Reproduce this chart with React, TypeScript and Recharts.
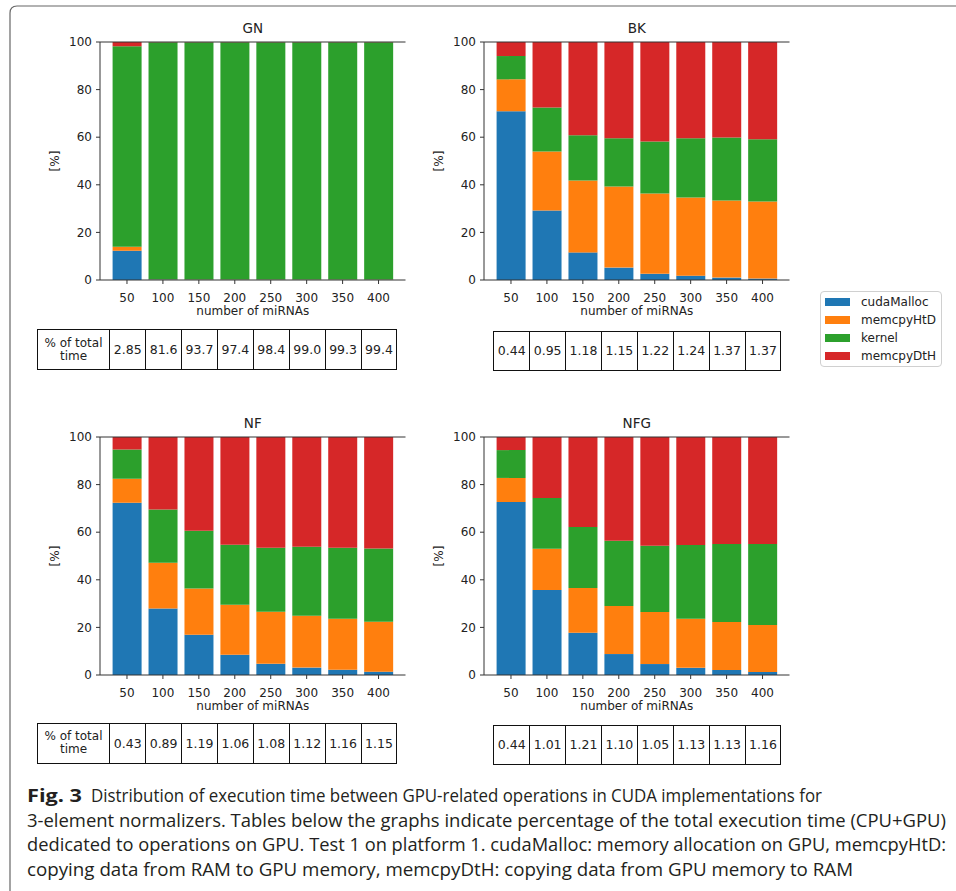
import React from 'react';
import { BarChart, Bar, XAxis, YAxis } from 'recharts';

const categories = ['50', '100', '150', '200', '250', '300', '350', '400'];
const seriesNames = ['cudaMalloc', 'memcpyHtD', 'kernel', 'memcpyDtH'];
const seriesColors = ['#1f77b4', '#ff7f0e', '#2ca02c', '#d62728'];
const yTicks = [0, 20, 40, 60, 80, 100];

// GN
const gnCuda = [12.3, 0.2, 0.1, 0.1, 0.1, 0.1, 0.1, 0.1];
const gnHtD = [1.7, 0.1, 0.1, 0.1, 0.1, 0.1, 0.1, 0.1];
const gnKernel = [84.2, 99.6, 99.7, 99.7, 99.7, 99.7, 99.7, 99.7];
const gnDtH = [1.8, 0.1, 0.1, 0.1, 0.1, 0.1, 0.1, 0.1];
const gnTable = ['2.85', '81.6', '93.7', '97.4', '98.4', '99.0', '99.3', '99.4'];

// BK
const bkCuda = [70.9, 29.2, 11.6, 5.2, 2.6, 1.8, 1.0, 0.6];
const bkHtD = [13.4, 24.8, 30.2, 34.1, 33.7, 32.9, 32.4, 32.4];
const bkKernel = [9.8, 18.5, 19.0, 20.3, 21.9, 24.9, 26.5, 26.1];
const bkDtH = [5.9, 27.5, 39.2, 40.4, 41.8, 40.4, 40.1, 40.9];
const bkTable = ['0.44', '0.95', '1.18', '1.15', '1.22', '1.24', '1.37', '1.37'];

// NF
const nfCuda = [72.4, 27.9, 16.9, 8.5, 4.7, 3.1, 2.2, 1.4];
const nfHtD = [10.1, 19.3, 19.4, 21.0, 21.9, 21.8, 21.4, 21.0];
const nfKernel = [12.2, 22.3, 24.3, 25.2, 26.9, 29.0, 29.9, 30.7];
const nfDtH = [5.3, 30.5, 39.4, 45.3, 46.5, 46.1, 46.5, 46.9];
const nfTable = ['0.43', '0.89', '1.19', '1.06', '1.08', '1.12', '1.16', '1.15'];

// NFG
const nfgCuda = [72.7, 35.7, 17.7, 8.8, 4.6, 3.0, 2.1, 1.3];
const nfgHtD = [10.1, 17.3, 18.9, 20.2, 21.9, 20.6, 20.2, 19.7];
const nfgKernel = [11.7, 21.4, 25.6, 27.4, 27.8, 31.0, 32.7, 34.0];
const nfgDtH = [5.5, 25.6, 37.8, 43.6, 45.7, 45.4, 45.0, 45.0];
const nfgTable = ['0.44', '1.01', '1.21', '1.10', '1.05', '1.13', '1.13', '1.16'];

const tableHeader = '% of total time';
const xLabel = 'number of miRNAs';
const yLabel = '[%]';

const captionBold = 'Fig. 3';
const captionLines = [
  'Distribution of execution time between GPU-related operations in CUDA implementations for',
  '3-element normalizers. Tables below the graphs indicate percentage of the total execution time (CPU+GPU)',
  'dedicated to operations on GPU. Test 1 on platform 1. cudaMalloc: memory allocation on GPU, memcpyHtD:',
  'copying data from RAM to GPU memory, memcpyDtH: copying data from GPU memory to RAM',
];

function buildRows(a: number[], b: number[], c: number[], d: number[]) {
  return categories.map((cat, i) => ({
    cat,
    [seriesNames[0]]: a[i],
    [seriesNames[1]]: b[i],
    [seriesNames[2]]: c[i],
    [seriesNames[3]]: d[i],
  }));
}

const FONT = '"DejaVu Sans", sans-serif';
const AXIS = '#333';
const TXT = '#222';

function Panel({ title, data, left, top }: { title: string; data: any[]; left: number; top: number }) {
  return (
    <div style={{ position: 'absolute', left, top }}>
      <BarChart
        width={420}
        height={342}
        data={data}
        margin={{ top: 14, right: 14.5, bottom: 0, left: 10 }}
        barCategoryGap="10%"
        style={{ fontFamily: FONT }}
      >
        <XAxis
          xAxisId="top"
          orientation="top"
          dataKey="cat"
          height={28}
          tick={false}
          tickLine={false}
          axisLine={{ stroke: AXIS, strokeWidth: 1 }}
          padding={{ left: 9, right: 9 }}
          label={{ value: title, position: 'center', fill: TXT, fontSize: 13.5, fontFamily: FONT, fontWeight: 'normal' }}
        />
        <XAxis
          dataKey="cat"
          height={62}
          interval={0}
          tickSize={4}
          tickMargin={9}
          padding={{ left: 9, right: 9 }}
          axisLine={{ stroke: AXIS, strokeWidth: 1 }}
          tickLine={{ stroke: AXIS }}
          tick={{ fill: TXT, fontSize: 12, fontFamily: FONT }}
          label={{ value: xLabel, position: 'center', fill: TXT, fontSize: 12, fontFamily: FONT }}
        />
        <YAxis
          type="number"
          domain={[0, 100]}
          ticks={yTicks}
          interval={0}
          width={90}
          tickSize={4}
          tickMargin={4}
          axisLine={{ stroke: AXIS, strokeWidth: 1 }}
          tickLine={{ stroke: AXIS }}
          tick={{ fill: TXT, fontSize: 12, fontFamily: FONT }}
          label={{ value: yLabel, position: 'center', angle: -90, fill: TXT, fontSize: 12, fontFamily: FONT }}
        />
        <YAxis
          yAxisId="right"
          orientation="right"
          width={0}
          tick={false}
          tickLine={false}
          axisLine={{ stroke: AXIS, strokeWidth: 1 }}
        />
        {seriesNames.map((name, i) => (
          <Bar key={name} dataKey={name} stackId="a" fill={seriesColors[i]} isAnimationActive={false} />
        ))}
      </BarChart>
    </div>
  );
}

function ValueTable({ values, left, top, header }: { values: string[]; left: number; top: number; header: boolean }) {
  const h = 40.5;
  const cellW = 35.9;
  const border = '1.2px solid #111';
  return (
    <div
      style={{
        position: 'absolute',
        left,
        top,
        height: h,
        display: 'flex',
        fontFamily: FONT,
        color: TXT,
        borderTop: border,
        borderBottom: border,
        borderLeft: border,
        boxSizing: 'border-box',
      }}
    >
      {header && (
        <div
          style={{
            width: 72.6,
            boxSizing: 'border-box',
            borderRight: border,
            display: 'flex',
            alignItems: 'center',
            justifyContent: 'center',
            textAlign: 'center',
            fontSize: 12,
            lineHeight: '13px',
            padding: '0 4px',
          }}
        >
          {tableHeader}
        </div>
      )}
      {values.map((v, i) => (
        <div
          key={i}
          style={{
            width: cellW,
            boxSizing: 'border-box',
            borderRight: border,
            display: 'flex',
            alignItems: 'center',
            justifyContent: 'center',
            fontSize: 12.5,
          }}
        >
          {v}
        </div>
      ))}
    </div>
  );
}

function LegendBox() {
  return (
    <div
      style={{
        position: 'absolute',
        left: 820,
        top: 291,
        width: 122,
        height: 76,
        boxSizing: 'border-box',
        border: '1px solid #d0d0d0',
        borderRadius: 4,
        fontFamily: FONT,
        fontSize: 12,
        color: TXT,
        paddingTop: 1,
      }}
    >
      {seriesNames.map((name, i) => (
        <div key={name} style={{ display: 'flex', alignItems: 'center', height: 18, marginLeft: 4 }}>
          <div style={{ width: 25, height: 8, background: seriesColors[i], marginRight: 11 }} />
          <span>{name}</span>
        </div>
      ))}
    </div>
  );
}

export default function App() {
  const gnData = buildRows(gnCuda, gnHtD, gnKernel, gnDtH);
  const bkData = buildRows(bkCuda, bkHtD, bkKernel, bkDtH);
  const nfData = buildRows(nfCuda, nfHtD, nfKernel, nfDtH);
  const nfgData = buildRows(nfgCuda, nfgHtD, nfgKernel, nfgDtH);
  const captionEnds = [822, 946, 946, 853];
  const captionStart = [91, 27, 27, 27];
  return (
    <div style={{ position: 'absolute', left: 0, top: 0, width: 956, height: 891, background: '#fff', overflow: 'hidden' }}>
      <svg width={956} height={891} style={{ position: 'absolute', left: 0, top: 0 }}>
        <path d="M 10 891 L 10 13 Q 10 6 17 6 L 956 6" fill="none" stroke="#666" strokeWidth={1.2} />
        <text x={27} y={802} fontFamily='"Open Sans", sans-serif' fontWeight="bold" fontSize={18} fill="#231f20" textLength={55} lengthAdjust="spacingAndGlyphs">
          {captionBold}
        </text>
        {captionLines.map((line, i) => (
          <text
            key={i}
            x={captionStart[i]}
            y={802 + i * 24.6}
            fontFamily='"Open Sans", sans-serif'
            fontSize={18}
            fill="#231f20"
            textLength={captionEnds[i] - captionStart[i]}
            lengthAdjust="spacingAndGlyphs"
          >
            {line}
          </text>
        ))}
      </svg>
      <Panel title="GN" data={gnData} left={0} top={0} />
      <Panel title="BK" data={bkData} left={384} top={0} />
      <Panel title="NF" data={nfData} left={0} top={395} />
      <Panel title="NFG" data={nfgData} left={384} top={395} />
      <ValueTable values={gnTable} left={36.7} top={329.3} header={true} />
      <ValueTable values={bkTable} left={493.3} top={330.7} header={false} />
      <ValueTable values={nfTable} left={36.7} top={723} header={true} />
      <ValueTable values={nfgTable} left={493.3} top={724.5} header={false} />
      <LegendBox />
    </div>
  );
}
